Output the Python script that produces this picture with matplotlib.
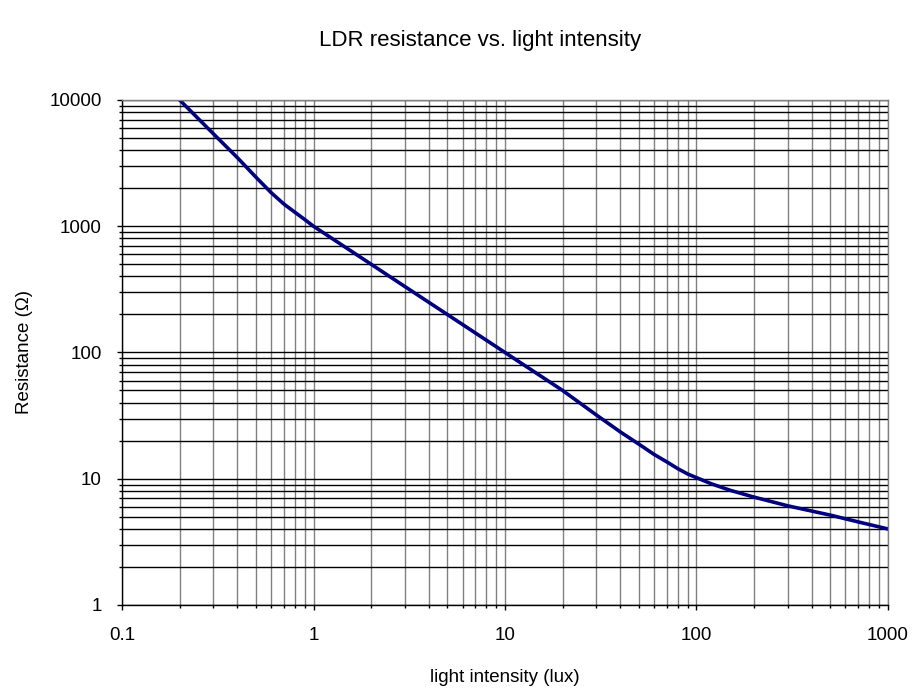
import numpy as np
import matplotlib.pyplot as plt
from matplotlib.ticker import LogLocator, FixedFormatter, FixedLocator, NullFormatter

plt.rcParams['font.family'] = ['Liberation Sans', 'DejaVu Sans']

# light intensity (lux) and LDR resistance (ohm)
lux = [0.2, 0.3, 0.4, 0.5, 0.6, 0.7, 0.8, 0.9, 1, 2, 3, 5, 10,
       20, 30, 40, 50, 60, 70, 80, 90, 100, 120, 150, 200, 300, 500, 700, 1000]
ohm = [10000, 5400, 3500, 2450, 1850, 1500, 1290, 1130, 1000, 500, 333, 200, 100,
       50, 32, 23.5, 18.8, 15.6, 13.6, 12.0, 10.9, 10.2, 9.1, 8.1, 7.15, 6.1, 5.15, 4.55, 4]

xticks = [0.1, 1, 10, 100, 1000]
xlabels = ['0.1', '1', '10', '100', '1000']
yticks = [1, 10, 100, 1000, 10000]
ylabels = ['1', '10', '100', '1000', '10000']

fig = plt.figure(figsize=(9.16, 6.93), dpi=100)
ax = fig.add_axes([0.1332, 0.127, 0.8362, 0.7287])

ax.set_xscale('log')
ax.set_yscale('log')
ax.set_xlim(0.1, 1000)
ax.set_ylim(1, 10000)

ax.xaxis.set_major_locator(FixedLocator(xticks))
ax.xaxis.set_major_formatter(FixedFormatter(xlabels))
ax.yaxis.set_major_locator(FixedLocator(yticks))
ax.yaxis.set_major_formatter(FixedFormatter(ylabels))
ax.xaxis.set_minor_locator(LogLocator(base=10, subs=np.arange(2, 10)))
ax.yaxis.set_minor_locator(LogLocator(base=10, subs=np.arange(2, 10)))
ax.xaxis.set_minor_formatter(NullFormatter())
ax.yaxis.set_minor_formatter(NullFormatter())

# grid: vertical lines grey, horizontal lines black
ax.grid(True, which='both', axis='x', color='#808080', linewidth=1.0)
ax.grid(True, which='both', axis='y', color='black', linewidth=1.0)
ax.set_axisbelow(True)

ax.plot(lux, ohm, color='#000080', linewidth=2.6, solid_joinstyle='round')

for s in ['top', 'right']:
    ax.spines[s].set_color('#808080')
    ax.spines[s].set_linewidth(1.0)
for s in ['left', 'bottom']:
    ax.spines[s].set_color('black')
    ax.spines[s].set_linewidth(1.0)

ax.tick_params(which='major', direction='out', length=3.5, width=1, labelsize=13.5)
ax.tick_params(which='minor', direction='out', length=2, width=1)
ax.tick_params(axis='y', which='major', pad=11)
ax.tick_params(axis='x', which='major', pad=12)

ax.set_xlabel('light intensity (lux)', fontsize=13.5, labelpad=18)
ax.set_ylabel('Resistance (Ω)', fontsize=13.5, labelpad=12)
fig.text(0.524, 0.942, 'LDR resistance vs. light intensity', fontsize=16,
         ha='center', va='center')

fig.savefig('out.png', dpi=100)
